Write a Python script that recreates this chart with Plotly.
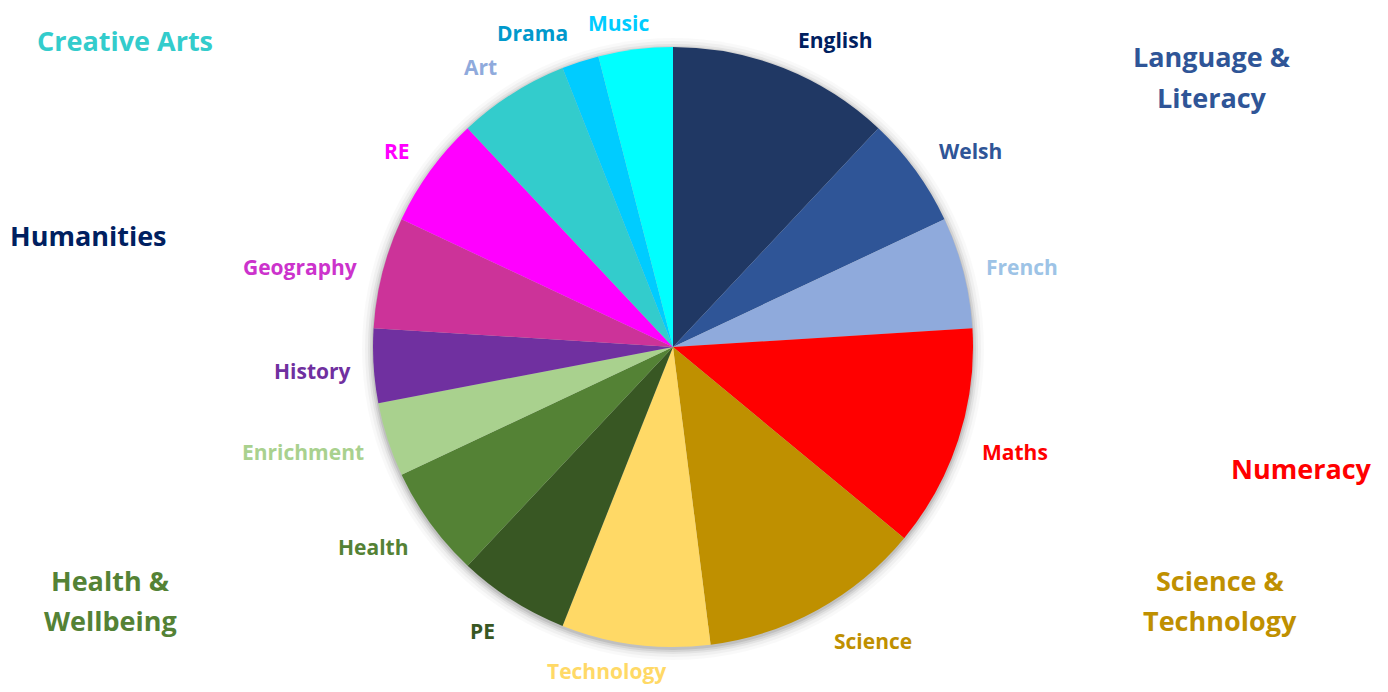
import plotly.graph_objects as go

# ---- data ----
subjects = ["English", "Welsh", "French", "Maths", "Science", "Technology", "PE",
            "Health", "Enrichment", "History", "Geography", "RE", "Art", "Drama", "Music"]
hours = [3, 1.5, 1.5, 3, 3, 2, 1.5, 1.5, 1, 1, 1.5, 1.5, 1.5, 0.5, 1]
slice_colors = ["#203864", "#2F5597", "#8FAADC", "#FF0000", "#BF9000", "#FFD966", "#385723",
                "#548235", "#A9D18E", "#7030A0", "#CC3399", "#FF00FF", "#33CCCC", "#00CCFF", "#00FFFF"]
label_colors = ["#002060", "#2F5597", "#9DC3E6", "#FF0000", "#BF9000", "#FFD966", "#385723",
                "#548235", "#A9D18E", "#7030A0", "#CC33CC", "#FF00FF", "#8FAADC", "#0099CC", "#00CCFF"]

groups = [["Creative Arts"], ["Language &", "Literacy"], ["Humanities"], ["Numeracy"],
          ["Health &", "Wellbeing"], ["Science &", "Technology"]]
group_colors = ["#33CCCC", "#2F5597", "#002060", "#FF0000", "#548235", "#BF9000"]

# ---- layout geometry (pixels in the 1388x692 page) ----
OFF = 8
W, H = 1388 - 2 * OFF, 692 - 2 * OFF
# label anchor positions (page pixels)
label_pos = [(835, 40), (970, 151), (1022, 267), (1015, 452), (873, 641), (606, 671),
             (482, 631), (373, 547), (303, 452), (312, 371), (300, 267), (397, 151),
             (480, 67), (532, 33), (618, 23)]
group_pos = [(125, 40), (1212, 57), (88, 236), (1301, 468), (110, 580), (1220, 580)]
LINE_GAP = 40

def px(x):
    return (x - OFF) / W

def py(y):
    return 1 - (y - OFF) / H

cx, cy, R = 673, 347, 300
dom_x = [px(cx - R), px(cx + R)]
dom_y = [py(cy + R), py(cy - R)]

fig = go.Figure()

# soft shadow behind the pie
for grow, alpha in [(11, 0.025), (8, 0.035), (5, 0.05), (3, 0.07), (1, 0.09)]:
    fig.add_trace(go.Pie(
        values=[1], marker=dict(colors=[f"rgba(0,0,0,{alpha})"], line=dict(width=0)),
        domain=dict(x=[px(cx - R - grow), px(cx + R + grow)],
                    y=[py(cy + R + grow + 2), py(cy - R - grow + 2)]),
        textinfo="none", hoverinfo="skip", showlegend=False, sort=False))

fig.add_trace(go.Pie(
    labels=subjects, values=hours, sort=False, direction="clockwise", rotation=0,
    marker=dict(colors=slice_colors, line=dict(width=0)),
    textinfo="none", showlegend=False, domain=dict(x=dom_x, y=dom_y)))

annotations = []
for name, col, (x, y) in zip(subjects, label_colors, label_pos):
    annotations.append(dict(text=name, x=px(x), y=py(y), xref="paper", yref="paper",
                            showarrow=False, xanchor="center", yanchor="middle",
                            font=dict(family="Open Sans", size=21, color=col, weight="bold")))
for lines, col, (x, y) in zip(groups, group_colors, group_pos):
    for i, line in enumerate(lines):
        annotations.append(dict(text=line, x=px(x), y=py(y + i * LINE_GAP),
                                xref="paper", yref="paper",
                                showarrow=False, xanchor="center", yanchor="middle",
                                font=dict(family="Open Sans", size=27, color=col, weight="bold")))

fig.update_layout(width=W, height=H, margin=dict(l=0, r=0, t=0, b=0),
                  paper_bgcolor="white", plot_bgcolor="white",
                  annotations=annotations, showlegend=False)

fig.write_html("out.html")
